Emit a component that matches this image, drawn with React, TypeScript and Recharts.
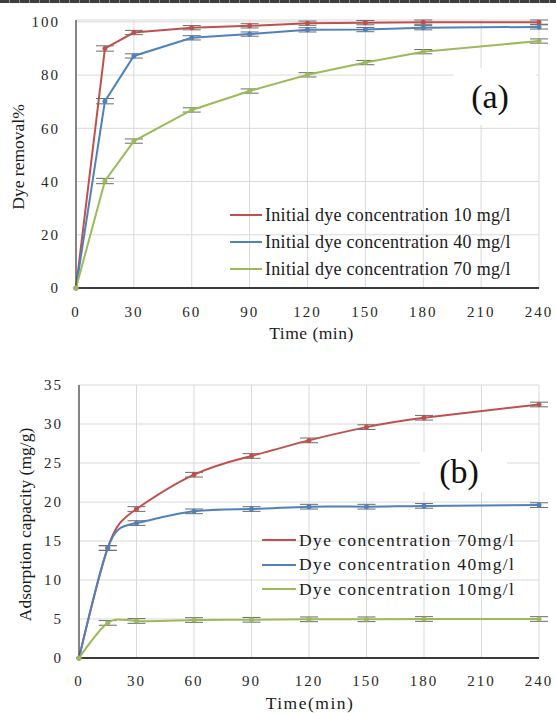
import React from 'react';
import { LineChart, Line, XAxis, YAxis, CartesianGrid, ErrorBar, Legend } from 'recharts';

// Sampling times (min) and axis ticks shared by both panels
const timeMin = [0, 15, 30, 60, 90, 120, 150, 180, 240];
const timeTicks = [0, 30, 60, 90, 120, 150, 180, 210, 240];

// Panel (a): dye removal (%) for three initial concentrations
const removal10 = [0, 90, 96, 97.8, 98.5, 99.5, 99.7, 99.9, 99.9];
const removal40 = [0, 70.2, 87.2, 94, 95.4, 97, 97.1, 97.8, 98.1];
const removal70 = [0, 40.2, 55.2, 66.9, 74, 80.1, 84.7, 88.8, 92.8];
const removalErr = [0, 1, 0.8, 0.8, 0.8, 0.8, 0.8, 0.8, 0.8];
const removalTicks = [0, 20, 40, 60, 80, 100];

// Panel (b): adsorption capacity (mg/g)
const capacity70 = [0, 14.1, 19.1, 23.5, 25.9, 27.9, 29.6, 30.8, 32.5];
const capacity40 = [0, 14.1, 17.3, 18.8, 19.1, 19.4, 19.4, 19.5, 19.6];
const capacity10 = [0, 4.5, 4.75, 4.87, 4.9, 4.96, 4.96, 5.0, 5.0];
const capacityErr = [0, 0.3, 0.3, 0.3, 0.3, 0.3, 0.3, 0.3, 0.3];
const capacityTicks = [0, 5, 10, 15, 20, 25, 30, 35];

// Legend row order for each panel
const legendOrderA = ['c10', 'c40', 'c70'];
const legendOrderB = ['c70', 'c40', 'c10'];

const RED = '#C0504D';
const BLUE = '#4F81BD';
const GREEN = '#9BBB59';
const SERIF = "'Liberation Serif', 'Times New Roman', Times, serif";

const removalRows = timeMin.map((t, i) => ({
  t,
  c10: removal10[i],
  c40: removal40[i],
  c70: removal70[i],
  err: removalErr[i],
}));

const capacityRows = timeMin.map((t, i) => ({
  t,
  c70: capacity70[i],
  c40: capacity40[i],
  c10: capacity10[i],
  err: capacityErr[i],
}));

const tickStyle = { fontSize: 15, fill: '#262626', fontFamily: SERIF, letterSpacing: 2 };

const VerticalTitle = (props: any) => {
  const { viewBox, text, dx = 18, dy = 0 } = props;
  const cx = viewBox.x + dx;
  const cy = viewBox.y + viewBox.height / 2 + dy;
  return (
    <text
      x={cx}
      y={cy}
      transform={`rotate(-90 ${cx} ${cy})`}
      textAnchor="middle"
      dominantBaseline="central"
      style={{ fontFamily: SERIF }}
      fontSize={17.5}
      fill="#1a1a1a"
    >
      {text}
    </text>
  );
};

const BottomTitle = (props: any) => {
  const { viewBox, text, dx = 0, dy = 45, spacing = 0 } = props;
  const cx = viewBox.x + viewBox.width / 2 + dx;
  const cy = viewBox.y + dy;
  return (
    <text
      x={cx}
      y={cy}
      textAnchor="middle"
      dominantBaseline="central"
      style={{ fontFamily: SERIF, letterSpacing: spacing }}
      fontSize={17.5}
      fill="#1a1a1a"
    >
      {text}
    </text>
  );
};

const LegendRows = (props: any) => {
  const { payload = [], order, rowHeight, lineWidth, fontSize, spacing } = props;
  const items = order.map((k: string) => payload.find((p: any) => p.dataKey === k)).filter(Boolean);
  return (
    <div style={{ fontFamily: SERIF }}>
      {items.map((p: any) => (
        <div key={p.value} style={{ display: 'flex', alignItems: 'center', height: rowHeight }}>
          <svg width={lineWidth} height={8} style={{ display: 'block' }}>
            <line x1={0} y1={4} x2={lineWidth} y2={4} stroke={p.color} strokeWidth={2} />
          </svg>
          <span
            style={{
              marginLeft: 3,
              fontSize,
              letterSpacing: spacing,
              color: '#1a1a1a',
              whiteSpace: 'nowrap',
              lineHeight: 1,
              fontFamily: SERIF,
            }}
          >
            {p.value}
          </span>
        </div>
      ))}
    </div>
  );
};

const errProps = { dataKey: 'err', width: 9, stroke: '#6b6b6b', strokeWidth: 1, isAnimationActive: false } as any;

export default function App() {
  return (
    <div style={{ position: 'absolute', left: 0, top: 0, width: 556, height: 713, background: '#fff', fontFamily: SERIF }}>
      <div
        style={{
          position: 'absolute',
          left: 0,
          top: 0,
          width: 556,
          height: 3,
          background: 'repeating-linear-gradient(90deg, #3c3c3c 0 9px, #8c8c8c 9px 10px)',
        }}
      />

      {/* (a) Dye removal */}
      <div style={{ position: 'absolute', left: 0, top: 0 }}>
        <LineChart width={556} height={345} data={removalRows} margin={{ top: 20, right: 17, bottom: 27, left: 0 }}>
          <CartesianGrid stroke="#d9d9d9" strokeWidth={1} />
          <XAxis
            dataKey="t"
            type="number"
            domain={[0, 240]}
            ticks={timeTicks}
            interval={0}
            height={30}
            tickLine={false}
            tickMargin={12}
            axisLine={{ stroke: '#000', strokeWidth: 1.3 }}
            tick={tickStyle}
            label={<BottomTitle text="Time (min)" dx={4} dy={45} spacing={0.5} />}
          />
          <YAxis
            type="number"
            domain={[0, 100]}
            ticks={removalTicks}
            interval={0}
            width={76}
            tickLine={false}
            tickMargin={10}
            axisLine={{ stroke: '#404040', strokeWidth: 1.2 }}
            tick={tickStyle}
            label={<VerticalTitle text="Dye removal%" dx={18} dy={3} />}
          />
          <Legend
            layout="vertical"
            align="center"
            verticalAlign="middle"
            wrapperStyle={{ left: 230, top: 201, width: 300 }}
            content={<LegendRows order={legendOrderA} rowHeight={27} lineWidth={32} fontSize={18} spacing={0.3} />}
          />
          <Line type="linear" dataKey="c10" name="Initial dye concentration 10 mg/l" stroke={RED} strokeWidth={2}
            dot={{ r: 1.5, fill: RED, stroke: RED }} isAnimationActive={false}>
            <ErrorBar {...errProps} />
          </Line>
          <Line type="linear" dataKey="c40" name="Initial dye concentration 40 mg/l" stroke={BLUE} strokeWidth={2}
            dot={{ r: 1.5, fill: BLUE, stroke: BLUE }} isAnimationActive={false}>
            <ErrorBar {...errProps} />
          </Line>
          <Line type="linear" dataKey="c70" name="Initial dye concentration 70 mg/l" stroke={GREEN} strokeWidth={2}
            dot={{ r: 1.5, fill: GREEN, stroke: GREEN }} isAnimationActive={false}>
            <ErrorBar {...errProps} />
          </Line>
        </LineChart>
      </div>
      <div
        style={{
          position: 'absolute',
          left: 453,
          top: 68,
          width: 83,
          height: 57,
          background: '#fff',
        }}
      >
        <div style={{ position: 'absolute', left: 0, width: 74, top: 12, textAlign: 'center', fontSize: 34, lineHeight: '34px', color: '#111', fontFamily: SERIF }}>
          (a)
        </div>
      </div>

      {/* (b) Adsorption capacity */}
      <div style={{ position: 'absolute', left: 0, top: 360 }}>
        <LineChart width={556} height={353} data={capacityRows} margin={{ top: 25, right: 17, bottom: 25, left: 0 }}>
          <CartesianGrid stroke="#d9d9d9" strokeWidth={1} />
          <XAxis
            dataKey="t"
            type="number"
            domain={[0, 240]}
            ticks={timeTicks}
            interval={0}
            height={30}
            tickLine={false}
            tickMargin={11}
            axisLine={{ stroke: '#000', strokeWidth: 1.3 }}
            tick={tickStyle}
            label={<BottomTitle text="Time(min)" dx={1} dy={45} spacing={1.5} />}
          />
          <YAxis
            type="number"
            domain={[0, 35]}
            ticks={capacityTicks}
            interval={0}
            width={79}
            tickLine={false}
            tickMargin={10}
            axisLine={{ stroke: '#404040', strokeWidth: 1.2 }}
            tick={tickStyle}
            label={<VerticalTitle text="Adsorption capacity (mg/g)" dx={25} dy={3} />}
          />
          <Legend
            layout="vertical"
            align="center"
            verticalAlign="middle"
            wrapperStyle={{ left: 262, top: 168, width: 290 }}
            content={<LegendRows order={legendOrderB} rowHeight={24.5} lineWidth={34} fontSize={17.5} spacing={1.4} />}
          />
          <Line type="natural" dataKey="c70" name="Dye concentration 70mg/l" stroke={RED} strokeWidth={2}
            dot={{ r: 1.5, fill: RED, stroke: RED }} isAnimationActive={false}>
            <ErrorBar {...errProps} />
          </Line>
          <Line type="natural" dataKey="c40" name="Dye concentration 40mg/l" stroke={BLUE} strokeWidth={2}
            dot={{ r: 1.5, fill: BLUE, stroke: BLUE }} isAnimationActive={false}>
            <ErrorBar {...errProps} />
          </Line>
          <Line type="natural" dataKey="c10" name="Dye concentration 10mg/l" stroke={GREEN} strokeWidth={2}
            dot={{ r: 1.5, fill: GREEN, stroke: GREEN }} isAnimationActive={false}>
            <ErrorBar {...errProps} />
          </Line>
        </LineChart>
      </div>
      <div
        style={{
          position: 'absolute',
          left: 420,
          top: 452,
          width: 87,
          height: 40,
          background: '#fff',
        }}
      >
        <div style={{ position: 'absolute', left: 0, width: 78, top: 2, textAlign: 'center', fontSize: 34, lineHeight: '36px', color: '#111', fontFamily: SERIF }}>
          (b)
        </div>
      </div>
    </div>
  );
}
